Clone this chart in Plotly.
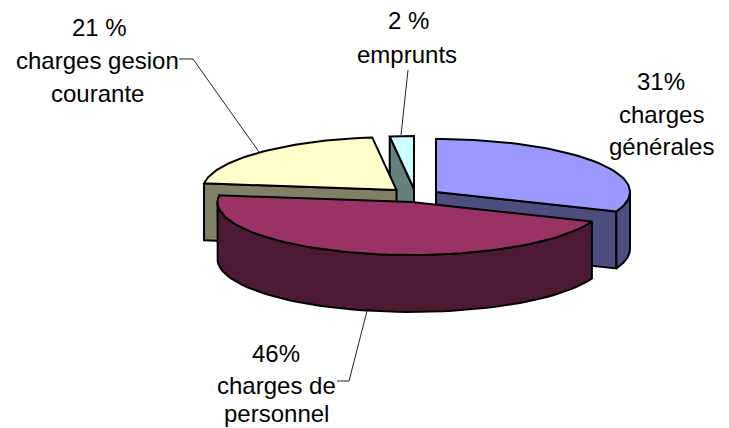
import numpy as np
import plotly.graph_objects as go

categories = ["charges générales", "charges de personnel", "charges gesion courante", "emprunts"]
values = [31, 46, 21, 2]
top_colors = ["#9999FF", "#993366", "#FFFFCC", "#CCFFFF"]
side_colors = ["#4D4D80", "#4C1A33", "#808066", "#668080"]
centers = [(436, 192), (411.5, 202), (396.5, 190), (414, 189)]

RX, RY, DEPTH = 194, 53, 57
W, H = 729, 428

starts = np.cumsum([0] + values[:-1]) / sum(values) * 360
sweeps = np.array(values) / sum(values) * 360


def rim(c, a0, a1, n=60):
    t = np.radians(np.linspace(a0, a1, n))
    return c[0] + RX * np.sin(t), c[1] - RY * np.cos(t)


fig = go.Figure()


def poly(x, y, fill):
    fig.add_trace(go.Scatter(x=list(x) + [x[0]], y=list(y) + [y[0]], mode="lines", fill="toself",
                             fillcolor=fill, line=dict(color="#000000", width=2),
                             hoverinfo="skip", showlegend=False))


def line(x, y):
    fig.add_trace(go.Scatter(x=x, y=y, mode="lines", line=dict(color="#222222", width=1),
                             hoverinfo="skip", showlegend=False))


def radial_face(c, angle, fill):
    ex, ey = rim(c, angle, angle, 1)
    poly([ex[0], c[0], c[0], ex[0]], [ey[0], c[1], c[1] + DEPTH, ey[0] + DEPTH], fill)


def outer_face(c, a0, a1, fill):
    rx, ry = rim(c, a0, a1)
    poly(np.r_[rx, rx[::-1]], np.r_[ry, ry[::-1] + DEPTH], fill)


def top_face(c, a0, a1, fill):
    rx, ry = rim(c, a0, a1)
    poly(np.r_[c[0], rx], np.r_[c[1], ry], fill)


# back to front: emprunts, gestion courante, charges générales, personnel
for i in [3, 2, 0, 1]:
    c, a0, a1 = centers[i], starts[i], starts[i] + sweeps[i]
    if i == 3:
        radial_face(c, a0, side_colors[i])
    if i == 2:
        radial_face(c, a0, side_colors[i])
    if i == 0:
        radial_face(c, a1, side_colors[i])
        outer_face(c, 90, a1, side_colors[i])
    if i == 1:
        outer_face(c, a0, 270, side_colors[i])
    top_face(c, a0, a1, top_colors[i])

# leader lines
line([179, 193, 259], [59, 59, 152])
line([408, 401], [70, 135])
line([337, 349, 367], [381, 381, 311])

labels = [
    ("21 %", 99, 27), ("charges gesion", 97, 60), ("courante", 97, 93),
    ("2 %", 408, 20), ("emprunts", 407, 54),
    ("31%", 661, 81), ("charges", 661, 114), ("générales", 661, 146),
    ("46%", 276, 353), ("charges de", 276, 385), ("personnel", 276, 413),
]
for text, x, y in labels:
    fig.add_annotation(x=x, y=y, text=text, showarrow=False, xanchor="center", yanchor="middle",
                       font=dict(family="Liberation Sans", size=24, color="#000000"))

fig.update_layout(width=W, height=H, margin=dict(l=0, r=0, t=0, b=0), paper_bgcolor="#FFFFFF",
                  plot_bgcolor="#FFFFFF",
                  xaxis=dict(range=[0, W], visible=False, fixedrange=True),
                  yaxis=dict(range=[H, 0], visible=False, fixedrange=True))
fig.write_html("out.html", config={"displayModeBar": False},
               post_script="document.body.style.margin='0';document.documentElement.style.overflow='hidden';")
